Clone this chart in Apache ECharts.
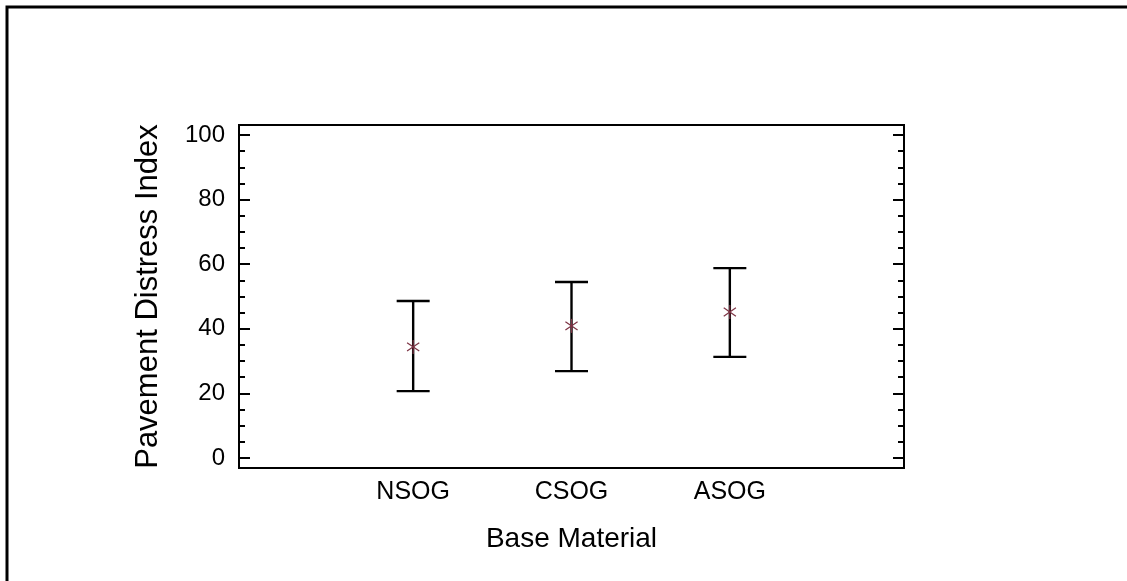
<!DOCTYPE html>
<html>
<head>
<meta charset="utf-8">
<script src="https://cdn.jsdelivr.net/npm/echarts@6/dist/echarts.min.js"></script>
<style>
html,body{margin:0;padding:0;background:#fff;}
#c{width:1127px;height:581px;}
</style>
</head>
<body>
<div id="c"></div>
<script>
var categories = ['NSOG', 'CSOG', 'ASOG'];
var means = [34.4, 40.9, 45.2];
var lower = [20.7, 26.9, 31.3];
var upper = [48.6, 54.5, 58.8];
var majorTicks = [0, 20, 40, 60, 80, 100];
var minorTicks = [0,5,10,15,20,25,30,35,40,45,50,55,60,65,70,75,80,85,90,95,100];

var barData = categories.map(function(c, i){ return [i + 1, lower[i], upper[i]]; });
var meanData = categories.map(function(c, i){ return [i + 1, means[i]]; });

var FONT = 'Liberation Sans, Arial, sans-serif';
var chart = echarts.init(document.getElementById('c'), null, {renderer: 'canvas'});

function tickAx(pos, ticks, len) {
  return {
    type: 'value', position: pos, min: -3.1, max: 103.1,
    axisLine: {show: false}, splitLine: {show: false},
    axisTick: {show: true, inside: true, length: len, customValues: ticks,
               lineStyle: {color: '#000', width: 2}},
    axisLabel: {show: false}
  };
}

chart.setOption({
  animation: false,
  backgroundColor: '#fff',
  graphic: [{
    type: 'rect', shape: {x: 7, y: 7, width: 1200, height: 700},
    style: {fill: 'none', stroke: '#000', lineWidth: 3}, z: 100
  }],
  grid: {left: 239, top: 125, right: 223, bottom: 113, show: true,
         borderColor: '#000', borderWidth: 2, backgroundColor: 'transparent'},
  xAxis: {
    type: 'value', min: -0.1, max: 4.1,
    axisLine: {show: false}, axisTick: {show: false}, splitLine: {show: false},
    axisLabel: {customValues: [1, 2, 3], margin: 12, color: '#000', fontSize: 25,
                fontFamily: FONT,
                formatter: function(v){ return categories[Math.round(v) - 1] || ''; }},
    name: 'Base Material', nameLocation: 'middle', nameGap: 57,
    nameTextStyle: {color: '#000', fontSize: 28, fontFamily: FONT}
  },
  yAxis: [
    {
      type: 'value', position: 'left', min: -3.1, max: 103.1,
      axisLine: {show: false}, splitLine: {show: false}, axisTick: {show: false},
      axisLabel: {show: true, customValues: majorTicks, margin: 14,
                  color: '#000', fontSize: 24, fontFamily: FONT},
      name: 'Pavement Distress Index',
      nameLocation: 'middle', nameGap: 75, nameRotate: 90,
      nameTextStyle: {color: '#000', fontSize: 31, fontFamily: FONT}
    },
    tickAx('left', majorTicks, 11),
    tickAx('left', minorTicks, 6),
    tickAx('right', majorTicks, 11),
    tickAx('right', minorTicks, 6)
  ],
  series: [{
    type: 'custom',
    data: barData,
    renderItem: function(params, api){
      var x = api.value(0);
      var lo = api.coord([x, api.value(1)]);
      var hi = api.coord([x, api.value(2)]);
      var hw = 16.5;
      var st = {stroke: '#000', lineWidth: 2.4};
      return {type: 'group', children: [
        {type: 'line', shape: {x1: lo[0], y1: lo[1], x2: hi[0], y2: hi[1]}, style: st},
        {type: 'line', shape: {x1: lo[0]-hw, y1: lo[1], x2: lo[0]+hw, y2: lo[1]}, style: st},
        {type: 'line', shape: {x1: hi[0]-hw, y1: hi[1], x2: hi[0]+hw, y2: hi[1]}, style: st}
      ]};
    }
  }, {
    type: 'custom',
    data: meanData,
    z: 5,
    renderItem: function(params, api){
      var p = api.coord([api.value(0), api.value(1)]);
      var r = 7;
      var st = {stroke: '#7d3344', lineWidth: 1.2};
      var dx = r * 0.87, dy = r * 0.6;
      return {type: 'group', children: [
        {type: 'line', shape: {x1: p[0], y1: p[1]-r, x2: p[0], y2: p[1]+r}, style: st},
        {type: 'line', shape: {x1: p[0]-dx, y1: p[1]-dy, x2: p[0]+dx, y2: p[1]+dy}, style: st},
        {type: 'line', shape: {x1: p[0]-dx, y1: p[1]+dy, x2: p[0]+dx, y2: p[1]-dy}, style: st}
      ]};
    }
  }]
});
</script>
</body>
</html>
